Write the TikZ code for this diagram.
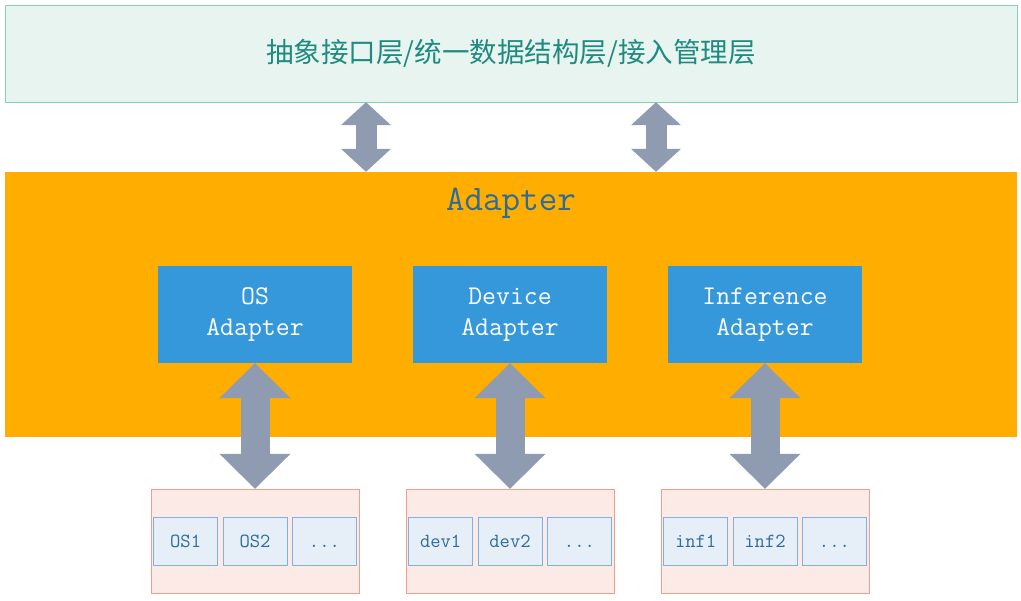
\documentclass[tikz,border=0pt]{standalone}
\usepackage{fontspec}
\newfontfamily\cjkfont{Noto Sans CJK SC}
\usepackage{tikz}
\usetikzlibrary{arrows.meta,positioning}

\definecolor{topfill}{HTML}{E8F4EF}
\definecolor{topline}{HTML}{86D0B4}
\definecolor{toptext}{HTML}{1E8A80}
\definecolor{adaptfill}{HTML}{FFAE00}
\definecolor{adapttext}{HTML}{2D6C9A}
\definecolor{boxblue}{HTML}{3598DA}
\definecolor{linkgray}{HTML}{8E9BB0}
\definecolor{grpfill}{HTML}{FBEAE6}
\definecolor{grpline}{HTML}{F0A08A}
\definecolor{cellfill}{HTML}{E6EEF8}
\definecolor{cellline}{HTML}{7FB2E2}

\begin{document}
\begin{tikzpicture}[x=1pt,y=-1pt,
toplayer/.style={draw=topline,fill=topfill,minimum width=1012pt,minimum height=97pt,
    text=toptext,font=\cjkfont\fontsize{27.5}{32}\selectfont},
adaptlayer/.style={fill=adaptfill,minimum width=1012pt,minimum height=265pt},
title/.style={text=adapttext,font=\ttfamily\fontsize{36}{43}\selectfont},
unit/.style={fill=boxblue,minimum width=194pt,minimum height=97pt,align=center,
    text=white,font=\ttfamily\fontsize{27}{31}\selectfont},
group/.style={draw=grpline,fill=grpfill,minimum width=208pt,minimum height=104pt},
cell/.style={draw=cellline,fill=cellfill,minimum width=64pt,minimum height=48pt,
    text height=12.5pt,text depth=0pt,
    text=adapttext,font=\ttfamily\fontsize{20}{24}\selectfont},
thinlink/.style={draw=linkgray,line width=21pt,
    {Triangle[width=50pt,length=23pt,line width=0pt]}-{Triangle[width=50pt,length=23pt,line width=0pt]}},
thicklink/.style={draw=linkgray,line width=29pt,
    {Triangle[width=71pt,length=35pt,line width=0pt]}-{Triangle[width=71pt,length=35pt,line width=0pt]}}]

\useasboundingbox (0,0) rectangle (1021,601);

% layers
\node[toplayer] (api) at (511,53.5) {抽象接口层/统一数据结构层/接入管理层};
\node[adaptlayer] (adapter) at (511,304.5) {};
\node[title] (adtitle) at (511,203) {Adapter};

% adapters and the things below them
\foreach \nm/\xc/\lbl/\ca/\cb in {os/255/OS/OS1/OS2,dev/510/Device/dev1/dev2,inf/765/Inference/inf1/inf2}
{
    \node[unit] (\nm) at (\xc,314.5) {\lbl\\Adapter};
    \node[group] (\nm grp) at (\xc,541) {};
    \node[cell] (\nm-2) at (\xc,541) {\cb};
    \node[cell,left=5pt of \nm-2] (\nm-1) {\ca};
    \node[cell,right=5pt of \nm-2] (\nm-3) {...};
    \draw[thicklink] (\nm.south) -- (\nm grp.north);
}

% links to the top layer
\foreach \xc [count=\i] in {366,656}
{
    \coordinate (up\i) at (api.south -| \xc,0);
    \coordinate (down\i) at (adapter.north -| \xc,0);
    \draw[thinlink] (up\i) -- (down\i);
}
\end{tikzpicture}
\end{document}
